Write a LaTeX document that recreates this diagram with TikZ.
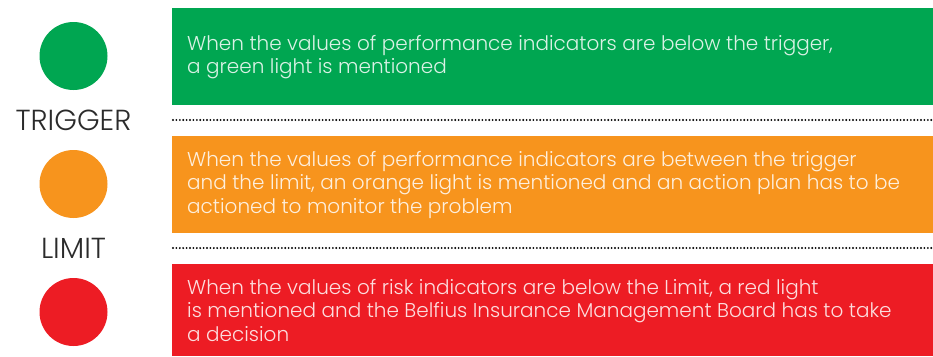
\documentclass[tikz,border=0pt]{standalone}
\usepackage{fontspec}
\setmainfont{Poppins Light}
\definecolor{cgreen}{HTML}{00A651}
\definecolor{corange}{HTML}{F7941D}
\definecolor{cred}{HTML}{ED1C24}
\definecolor{lbl}{HTML}{2B2B2B}
\begin{document}
\begin{tikzpicture}[x=1pt,y=-1pt,
  lamp/.style={circle,minimum size=68pt,inner sep=0pt},
  bandtext/.style={anchor=base west,align=left,inner sep=0pt,text=white,text opacity=0.85,
    font=\fontsize{20}{23.5}\selectfont},
  level/.style={font=\fontsize{29}{32}\selectfont,text=lbl,inner sep=0pt,anchor=base},
  sep/.style={line width=2.1pt,line cap=round,dash pattern=on 0pt off 3.4pt}]
\useasboundingbox (0,0) rectangle (933,356);
% bands
\fill[cgreen] (172,8) rectangle (933,104.5);
\fill[corange] (172,136) rectangle (933,233);
\fill[cred] (172,264) rectangle (933,356);
% texts (anchor = baseline of last line)
\node[bandtext] (gt) at (187,73.5) {When the values of performance indicators are below the trigger,\\a green light is mentioned};
\node[bandtext] (ot) at (187,213) {When the values of performance indicators are between the trigger\\and the limit, an orange light is mentioned and an action plan has to be\\actioned to monitor the problem};
\node[bandtext] (rt) at (187,341) {When the values of risk indicators are below the Limit, a red light\\is mentioned and the Belfius Insurance Management Board has to take\\a decision};
% lamps
\node[lamp,fill=cgreen] (g) at (73.5,56) {};
\node[lamp,fill=corange] (o) at (73.5,184) {};
\node[lamp,fill=cred] (r) at (73.5,312) {};
\node[level] (trig) at (73.5,130) {TRIGGER};
\node[level] (lim) at (73.5,258) {LIMIT};
% separators
\coordinate (s1a) at (173,120);
\coordinate (s1b) at (932,120);
\coordinate (s2a) at (173,248);
\coordinate (s2b) at (932,248);
\draw[sep] (s1a) -- (s1b);
\draw[sep] (s2a) -- (s2b);
\end{tikzpicture}
\end{document}
